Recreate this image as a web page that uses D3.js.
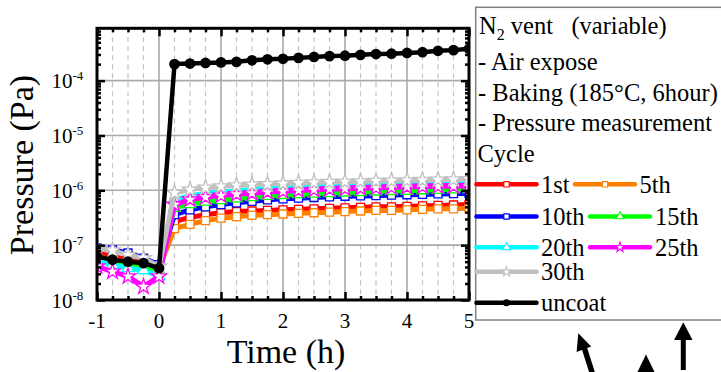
<!DOCTYPE html>
<html><head><meta charset="utf-8">
<script src="https://cdn.jsdelivr.net/npm/d3@7"></script>
</head><body style="margin:0">
<svg id="chart" width="721" height="372" style="display:block"></svg>
<script>
// ---------- data ----------
const times = [-1,-0.75,-0.5,-0.25,0,0.25,0.5,0.75,1,1.25,1.5,1.75,2,2.25,2.5,2.75,3,3.25,3.5,3.75,4,4.25,4.5,4.75,5];
const xTickValues = [-1,0,1,2,3,4,5];
const xTickLabels = ["-1","0","1","2","3","4","5"];
const yTickExponents = [-8,-7,-6,-5,-4];
const seriesNames = ["1st","5th","10th","15th","20th","25th","30th","uncoat"];

const cycle1st  = [7.2e-8,6.2e-8,5.4e-8,5.0e-8,3.5e-8, 2.7e-7,3.2e-7,3.6e-7,3.9e-7,4.1e-7,4.2e-7,4.3e-7,4.4e-7,4.5e-7,4.6e-7,4.7e-7,4.8e-7,4.9e-7,5.0e-7,5.0e-7,5.1e-7,5.2e-7,5.3e-7,5.4e-7,5.5e-7];
const cycle5th  = [6.2e-8,5.4e-8,5.0e-8,4.1e-8,3.8e-8, 2.0e-7,2.4e-7,2.8e-7,3.1e-7,3.3e-7,3.5e-7,3.6e-7,3.7e-7,3.8e-7,3.9e-7,4.0e-7,4.1e-7,4.2e-7,4.3e-7,4.3e-7,4.4e-7,4.5e-7,4.6e-7,4.6e-7,4.7e-7];
const cycle10th = [8.9e-8,8.2e-8,7.2e-8,5.8e-8,4.4e-8, 3.6e-7,4.4e-7,5.0e-7,5.5e-7,5.9e-7,6.3e-7,6.7e-7,7.0e-7,7.2e-7,7.4e-7,7.6e-7,7.8e-7,7.9e-7,8.0e-7,8.2e-7,8.3e-7,8.4e-7,8.6e-7,8.7e-7,8.8e-7];
const cycle15th = [5.8e-8,5.0e-8,4.4e-8,3.8e-8,3.5e-8, 4.8e-7,5.6e-7,6.2e-7,6.6e-7,7.1e-7,7.5e-7,7.9e-7,8.2e-7,8.5e-7,8.7e-7,8.9e-7,9.1e-7,9.3e-7,9.5e-7,9.7e-7,9.8e-7,1.0e-6,1.02e-6,1.04e-6,1.05e-6];
const cycle20th = [5.4e-8,4.4e-8,3.8e-8,3.5e-8,2.7e-8, 6.6e-7,8.0e-7,8.8e-7,9.3e-7,9.8e-7,1.03e-6,1.07e-6,1.1e-6,1.13e-6,1.16e-6,1.19e-6,1.21e-6,1.23e-6,1.25e-6,1.27e-6,1.29e-6,1.3e-6,1.31e-6,1.32e-6,1.33e-6];
const cycle25th = [4.1e-8,3.3e-8,2.7e-8,1.75e-8,2.7e-8, 5.5e-7,6.8e-7,7.5e-7,8.0e-7,8.5e-7,8.9e-7,9.3e-7,9.6e-7,9.9e-7,1.02e-6,1.05e-6,1.07e-6,1.09e-6,1.11e-6,1.13e-6,1.15e-6,1.17e-6,1.18e-6,1.19e-6,1.2e-6];
const cycle30th = [8.9e-8,8.0e-8,6.6e-8,5.8e-8,4.1e-8, 9.0e-7,1.03e-6,1.12e-6,1.18e-6,1.23e-6,1.27e-6,1.3e-6,1.33e-6,1.36e-6,1.39e-6,1.42e-6,1.44e-6,1.46e-6,1.48e-6,1.5e-6,1.52e-6,1.54e-6,1.56e-6,1.58e-6,1.6e-6];
const uncoat    = [6.2e-8,5.4e-8,5.0e-8,4.7e-8,3.8e-8, 2.0e-4,2.05e-4,2.1e-4,2.15e-4,2.2e-4,2.35e-4,2.45e-4,2.5e-4,2.6e-4,2.7e-4,2.8e-4,2.85e-4,2.95e-4,3.05e-4,3.1e-4,3.2e-4,3.3e-4,3.5e-4,3.6e-4,3.8e-4];

const legendLines = ["- Air expose","- Baking (185\u00B0C, 6hour)","- Pressure measurement"];

// ---------- styles ----------
const FONT = "Liberation Serif";
const seriesValues = [cycle1st,cycle5th,cycle10th,cycle15th,cycle20th,cycle25th,cycle30th,uncoat];
const seriesColors = ["#ff0000","#ff8000","#0000ff","#00ff00","#00ffff","#ff00ff","#c0c0c0","#000000"];
const seriesSymbols = [d3.symbolSquare,d3.symbolSquare,d3.symbolSquare,d3.symbolTriangle,d3.symbolTriangle,d3.symbolStar,d3.symbolStar,d3.symbolCircle];

const svg = d3.select("#chart");
const L = 97, R = 469, T = 28.3, B = 300;
const x = d3.scaleLinear().domain([-1,5]).range([L,R]);
const y = d3.scaleLog().domain([1e-8,9e-4]).range([B,T]);

function txt(parent){ return parent.append("text").style("font-family",FONT).attr("fill","#000"); }

// grid
const g = svg.append("g");
const minorX = times.filter(t => !Number.isInteger(t));
g.selectAll(".gmx").data(minorX).join("line")
  .attr("x1", d=>x(d)).attr("x2", d=>x(d)).attr("y1", T).attr("y2", B)
  .attr("stroke","#c4c4c4").attr("stroke-width",1.2).attr("stroke-dasharray","5,4");
g.selectAll(".gMx").data(xTickValues.slice(1,-1)).join("line")
  .attr("x1", d=>x(d)).attr("x2", d=>x(d)).attr("y1", T).attr("y2", B)
  .attr("stroke","#a9a9a9").attr("stroke-width",1.6);
g.selectAll(".gMy").data(yTickExponents.slice(1).map(e=>Math.pow(10,e))).join("line")
  .attr("y1", d=>y(d)).attr("y2", d=>y(d)).attr("x1", L).attr("x2", R)
  .attr("stroke","#a9a9a9").attr("stroke-width",1.6);

// clip
svg.append("clipPath").attr("id","clip").append("rect")
  .attr("x",L).attr("y",T).attr("width",R-L).attr("height",B-T);
const plot = svg.append("g").attr("clip-path","url(#clip)");
const line = d3.line().x((d,i)=>x(times[i])).y(d=>y(d));

seriesValues.forEach((vals,k)=>{
  const col = seriesColors[k];
  const isBlack = k===7;
  plot.append("path").datum(vals).attr("d",line)
    .attr("fill","none").attr("stroke",col).attr("stroke-width",isBlack?4.5:5)
    .attr("stroke-linejoin","round");
  const st = seriesSymbols[k];
  const sym = d3.symbol().type(st).size(isBlack?90:(st===d3.symbolStar?75:(st===d3.symbolTriangle?62:64)));
  plot.selectAll(null).data(vals).join("path")
    .attr("transform",(d,i)=>`translate(${x(times[i])},${y(d)})`)
    .attr("d",sym())
    .attr("fill",isBlack?"#000":"#fff")
    .attr("stroke",col).attr("stroke-width",isBlack?0:1.3);
});

// axes (ticks inward)
const fs = "21px";
const xMinor = times.filter(t=>!Number.isInteger(t));
const yMinor = [];
yTickExponents.forEach(e=>{ for(let m=2;m<=9;m++){ const v=m*Math.pow(10,e); if(v<=9e-4) yMinor.push(v);} });
const yMajor = yTickExponents.map(e=>Math.pow(10,e));

function styleAxis(sel){ sel.select(".domain").remove(); sel.selectAll("line").attr("stroke","#000").attr("stroke-width",2.5); }
const xAxisG = svg.append("g").attr("transform",`translate(0,${B})`)
  .call(d3.axisBottom(x).tickValues(xTickValues).tickSize(-8).tickFormat(""))
  .call(styleAxis);
xTickValues.forEach((v,i)=>{
  txt(svg).attr("x",x(v)).attr("y",328).attr("text-anchor","middle").attr("font-size",fs).text(xTickLabels[i]);
});
svg.append("g").attr("transform",`translate(0,${B})`)
  .call(d3.axisBottom(x).tickValues(xMinor).tickSize(-4).tickFormat("")).call(styleAxis);
svg.append("g").attr("transform",`translate(0,${T})`)
  .call(d3.axisTop(x).tickValues(xTickValues).tickSize(-8).tickFormat("")).call(styleAxis);
svg.append("g").attr("transform",`translate(0,${T})`)
  .call(d3.axisTop(x).tickValues(xMinor).tickSize(-4).tickFormat("")).call(styleAxis);
svg.append("g").attr("transform",`translate(${L},0)`)
  .call(d3.axisLeft(y).tickValues(yMajor).tickSize(-8).tickFormat("")).call(styleAxis);
svg.append("g").attr("transform",`translate(${L},0)`)
  .call(d3.axisLeft(y).tickValues(yMinor).tickSize(-4).tickFormat("")).call(styleAxis);
svg.append("g").attr("transform",`translate(${R},0)`)
  .call(d3.axisRight(y).tickValues(yMajor).tickSize(-8).tickFormat("")).call(styleAxis);
svg.append("g").attr("transform",`translate(${R},0)`)
  .call(d3.axisRight(y).tickValues(yMinor).tickSize(-4).tickFormat("")).call(styleAxis);

// y tick labels 10^n
yTickExponents.forEach(e=>{
  const t = txt(svg).attr("x",51.5).attr("y",y(Math.pow(10,e))+7.6).attr("font-size",fs);
  t.append("tspan").text("10");
  t.append("tspan").attr("dy",-8).attr("font-size","13px").text(String(e));
});

// frame
svg.append("rect").attr("x",L).attr("y",T).attr("width",R-L).attr("height",B-T)
  .attr("fill","none").attr("stroke","#000").attr("stroke-width",3);

// axis titles
txt(svg).attr("transform","translate(33,165) rotate(-90)")
  .attr("text-anchor","middle").attr("font-size","34px").text("Pressure (Pa)");
txt(svg).attr("x",286).attr("y",363).attr("text-anchor","middle")
  .attr("font-size","34px").text("Time (h)");

// legend
const lg = svg.append("g");
lg.append("rect").attr("x",475.7).attr("y",7.3).attr("width",270).attr("height",312.7)
  .attr("fill","#fff").attr("stroke","#808080").attr("stroke-width",1.5);
const lfs = "24.5px";
const title = txt(lg).attr("x",479).attr("y",33.5).attr("font-size",lfs).style("white-space","pre");
title.append("tspan").text("N");
title.append("tspan").attr("dy",6).attr("font-size","16px").text("2");
title.append("tspan").attr("dy",-6).text(" vent   (variable)");
legendLines.forEach((s,i)=>{
  txt(lg).attr("x",478).attr("y",70+i*30.5).attr("font-size",lfs).text(s);
});
txt(lg).attr("x",477.5).attr("y",162).attr("font-size",lfs).text("Cycle");

const legendPos = [
  {k:0,x0:476.5,x1:536.5,ty:184.3,tx:541},
  {k:1,x0:575,x1:635,ty:184.3,tx:639.5},
  {k:2,x0:476.5,x1:536.5,ty:216.5,tx:541},
  {k:3,x0:590,x1:650,ty:216.5,tx:655},
  {k:4,x0:476.5,x1:536.5,ty:247.3,tx:541},
  {k:5,x0:590,x1:650,ty:247.3,tx:655},
  {k:6,x0:476.5,x1:536.5,ty:271.7,tx:541},
  {k:7,x0:476.5,x1:536.5,ty:302.7,tx:541}
];
legendPos.forEach(p=>{
  const col = seriesColors[p.k];
  const isBlack = p.k===7;
  const st = seriesSymbols[p.k];
  lg.append("line").attr("x1",p.x0).attr("x2",p.x1).attr("y1",p.ty).attr("y2",p.ty)
    .attr("stroke",col).attr("stroke-width",4.5).attr("stroke-linecap","round");
  lg.append("path").attr("transform",`translate(${(p.x0+p.x1)/2},${p.ty})`)
    .attr("d",d3.symbol().type(st).size(isBlack?40:(st===d3.symbolStar?30:28))())
    .attr("fill",isBlack?"#000":"#fff").attr("stroke",col).attr("stroke-width",isBlack?0:1.1);
  txt(lg).attr("x",p.tx).attr("y",p.ty+8.5).attr("font-size",lfs).text(seriesNames[p.k]);
});

// annotation arrows (decorative, below the legend)
const ar = svg.append("g").attr("fill","#000").attr("stroke","none");
ar.append("line").attr("x1",594.5).attr("y1",380).attr("x2",584).attr("y2",347).attr("stroke","#000").attr("stroke-width",5.5);
ar.append("path").attr("d","M578.3,333.3 L591.2,346.6 L576.6,352 Z");
ar.append("path").attr("d","M646,354.5 L656.5,376 L635.5,376 Z");
ar.append("line").attr("x1",683.3).attr("y1",338).attr("x2",683.3).attr("y2",370).attr("stroke","#000").attr("stroke-width",5);
ar.append("path").attr("d","M683.3,322.3 L692.5,340 L674.1,340 Z");
</script>
</body></html>
